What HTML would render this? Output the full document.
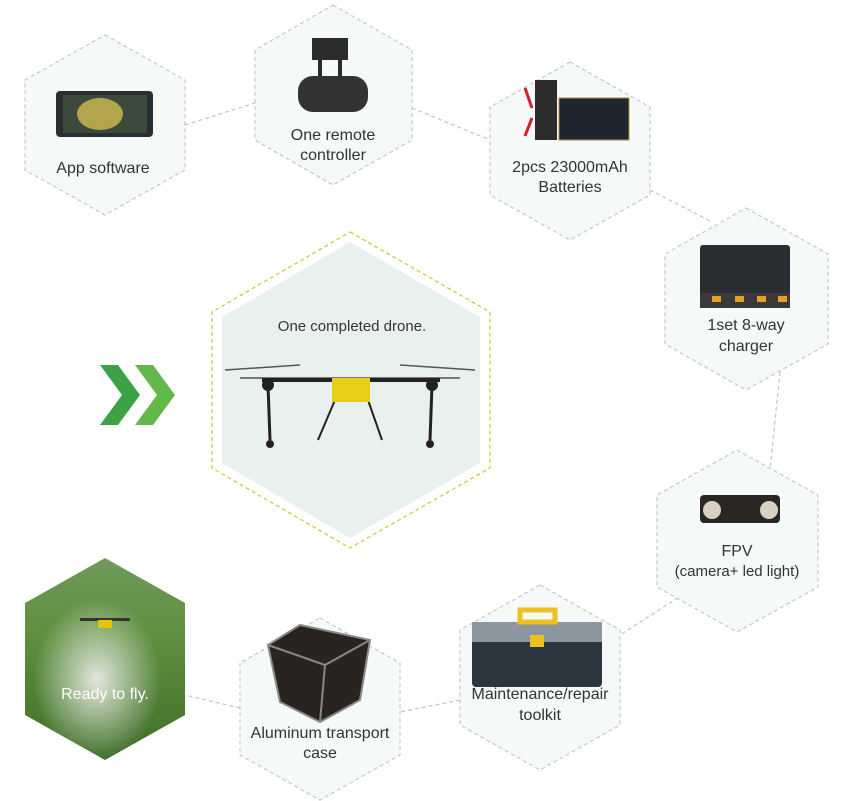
<!DOCTYPE html>
<html><head><meta charset="utf-8"><style>
html,body{margin:0;padding:0;background:#fff;}
svg{display:block;font-family:"Liberation Sans",sans-serif;}
</style></head><body>
<svg width="848" height="801" viewBox="0 0 848 801" xmlns="http://www.w3.org/2000/svg">
<defs>
<linearGradient id="field" x1="0" y1="0" x2="0" y2="1">
<stop offset="0" stop-color="#6f9a5a"/><stop offset="0.4" stop-color="#5e8e3e"/><stop offset="1" stop-color="#3f6e2a"/>
</linearGradient>
<radialGradient id="spray" cx="0.45" cy="0.6" r="0.4">
<stop offset="0" stop-color="#e8ece6" stop-opacity="0.95"/><stop offset="1" stop-color="#e8ece6" stop-opacity="0"/>
</radialGradient>
</defs>
<g stroke="#c4c4c4" stroke-width="1.2" stroke-dasharray="4,3" fill="none">
<path d="M185,125 L255,103"/>
<path d="M412,108 L490,140"/>
<path d="M650,190 L712,222"/>
<path d="M780,372 L770,470"/>
<path d="M690,590 L620,635"/>
<path d="M460,700 L400,712"/>
<path d="M240,708 L185,695"/>
</g>
<g fill="#f5f9f8" stroke="#c8c8c8" stroke-width="1.2" stroke-dasharray="4,3">
<polygon points="105,35 185,80 185,170 105,215 25,170 25,80"/>
<polygon points="333,5 412,50 412,140 333,185 255,140 255,50"/>
<polygon points="570,62 650,107 650,195 570,240 490,195 490,107"/>
<polygon points="746,208 828,254 828,344 746,390 665,344 665,254"/>
<polygon points="737,450 818,495 818,587 737,632 657,587 657,495"/>
<polygon points="540,585 620,630 620,725 540,770 460,725 460,630"/>
<polygon points="320,618 400,663 400,755 320,800 240,755 240,663"/>
</g>
<polygon points="350,232 490,312 490,468 350,548 212,468 212,312" fill="#fff" stroke="#b9cf3a" stroke-width="1.2" stroke-dasharray="4,3"/>
<polygon points="350,242 480,317 480,463 350,538 222,463 222,317" fill="#e9f1ee"/>
<!-- ready to fly -->
<polygon points="105,558 185,603 185,715 105,760 25,715 25,603" fill="url(#field)"/>
<polygon points="105,558 185,603 185,715 105,760 25,715 25,603" fill="url(#spray)"/>
<g fill="#333"><rect x="80" y="618" width="50" height="3"/><rect x="98" y="620" width="14" height="8" fill="#e5c500"/></g>
<!-- chevrons -->
<polygon points="100,365 118,365 140,395 118,425 100,425 122,395" fill="#3da146"/>
<polygon points="135,365 153,365 175,395 153,425 135,425 157,395" fill="#62b84a"/>
<!-- tablet -->
<rect x="56" y="91" width="97" height="46" rx="4" fill="#2a2f33"/>
<rect x="63" y="95" width="84" height="38" fill="#3b4a3a"/>
<ellipse cx="100" cy="114" rx="23" ry="16" fill="#b3a54e"/>
<!-- remote -->
<rect x="312" y="38" width="36" height="22" fill="#2c2c2c"/>
<rect x="318" y="58" width="4" height="20" fill="#2c2c2c"/><rect x="338" y="58" width="4" height="20" fill="#2c2c2c"/>
<rect x="298" y="76" width="70" height="36" rx="15" fill="#333"/>
<!-- batteries -->
<rect x="535" y="80" width="22" height="60" fill="#2c2c2c"/>
<rect x="559" y="98" width="70" height="42" fill="#1f2630" stroke="#b08a3a"/>
<path d="M525,88 L532,108 M525,136 L532,118" stroke="#c23" stroke-width="3"/>
<!-- charger -->
<rect x="700" y="245" width="90" height="63" rx="3" fill="#2a2e33"/>
<rect x="700" y="293" width="90" height="15" fill="#3a3a3a"/>
<g fill="#e8a020"><rect x="712" y="296" width="9" height="6"/><rect x="735" y="296" width="9" height="6"/><rect x="757" y="296" width="9" height="6"/><rect x="778" y="296" width="9" height="6"/></g>
<!-- drone -->
<g stroke="#222" stroke-width="2" fill="none">
<path d="M225,370 L300,365 M400,365 L475,370 M240,378 L460,378" stroke-width="1.5" stroke="#555"/>
<path d="M262,380 L440,380" stroke-width="4"/>
<path d="M268,385 L270,440 M432,385 L430,440" stroke-width="3"/><path d="M335,400 L318,440 M368,400 L382,440"/>
</g>
<rect x="332" y="378" width="38" height="24" fill="#e6cf16"/>
<g fill="#222"><circle cx="270" cy="444" r="4"/><circle cx="430" cy="444" r="4"/><circle cx="268" cy="385" r="6"/><circle cx="432" cy="385" r="6"/></g>
<!-- fpv -->
<rect x="700" y="495" width="80" height="28" rx="4" fill="#2a2622"/>
<circle cx="712" cy="510" r="9" fill="#d8d0c0"/><circle cx="769" cy="510" r="9" fill="#d8d0c0"/>
<!-- toolkit -->
<rect x="472" y="622" width="130" height="65" rx="4" fill="#2c3640"/>
<rect x="472" y="622" width="130" height="20" fill="#8b96a0"/>
<rect x="520" y="610" width="35" height="12" fill="none" stroke="#f0c020" stroke-width="5"/>
<rect x="530" y="635" width="14" height="12" fill="#f0c020"/>
<!-- case -->
<polygon points="268,645 300,625 370,640 360,700 320,722 280,702" fill="#2a2421" stroke="#888" stroke-width="2"/>
<path d="M268,645 L325,665 L370,640 M325,665 L320,722" stroke="#888" stroke-width="2" fill="none"/>
<g font-size="16" fill="#333" text-anchor="middle">
<text x="103" y="173">App software</text>
<text x="333" y="140">One remote</text>
<text x="333" y="160">controller</text>
<text x="570" y="172">2pcs 23000mAh</text>
<text x="570" y="192">Batteries</text>
<text x="746" y="330">1set 8-way</text>
<text x="746" y="351">charger</text>
<text x="352" y="331" font-size="15">One completed drone.</text>
<text x="737" y="556">FPV</text>
<text x="737" y="576" font-size="15">(camera+ led light)</text>
<text x="540" y="699">Maintenance/repair</text>
<text x="540" y="720">toolkit</text>
<text x="320" y="738">Aluminum transport</text>
<text x="320" y="758">case</text>
<text x="105" y="699" fill="#fff">Ready to fly.</text>
</g>
</svg>
</body></html>
